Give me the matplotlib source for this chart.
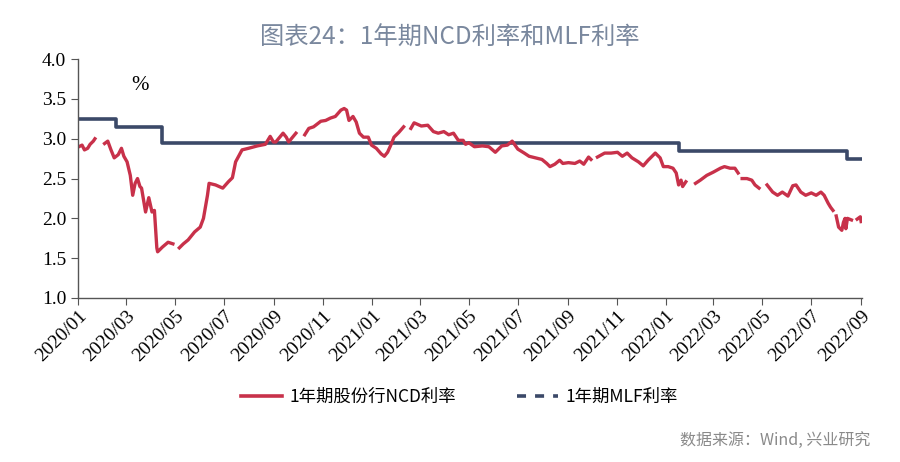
import numpy as np
import pandas as pd
import matplotlib
matplotlib.use('Agg')
import matplotlib.pyplot as plt
import matplotlib.dates as mdates
from matplotlib.lines import Line2D

# 1年期股份行NCD利率 (None = no data, holiday gaps)
ncd_dates = [
    '2020-01-02', '2020-01-06', '2020-01-09', '2020-01-13', '2020-01-16', '2020-01-20', '2020-01-22', '2020-01-27',
    '2020-02-03', '2020-02-07', '2020-02-11', '2020-02-15', '2020-02-20', '2020-02-24', '2020-02-27',
    '2020-03-02', '2020-03-06', '2020-03-09', '2020-03-12', '2020-03-15', '2020-03-18', '2020-03-20', '2020-03-25', '2020-03-29',
    '2020-04-02', '2020-04-05', '2020-04-08', '2020-04-09', '2020-04-15', '2020-04-22', '2020-04-28', '2020-04-30',
    '2020-05-06', '2020-05-11', '2020-05-17', '2020-05-25',
    '2020-06-01', '2020-06-05', '2020-06-10', '2020-06-12', '2020-06-20', '2020-06-29',
    '2020-07-06', '2020-07-11', '2020-07-15', '2020-07-23', '2020-07-31',
    '2020-08-11', '2020-08-21', '2020-08-27', '2020-08-31',
    '2020-09-03', '2020-09-12', '2020-09-16', '2020-09-19', '2020-09-28', '2020-09-30',
    '2020-10-09', '2020-10-14', '2020-10-20', '2020-10-29',
    '2020-11-04', '2020-11-10', '2020-11-16', '2020-11-23', '2020-11-27', '2020-11-30',
    '2020-12-03', '2020-12-08', '2020-12-12', '2020-12-16', '2020-12-21', '2020-12-27', '2020-12-31',
    '2021-01-06', '2021-01-12', '2021-01-16', '2021-01-20', '2021-01-24', '2021-01-28',
    '2021-02-03', '2021-02-09', '2021-02-11', '2021-02-18', '2021-02-22',
    '2021-03-03', '2021-03-11', '2021-03-18', '2021-03-24', '2021-03-31',
    '2021-04-06', '2021-04-12', '2021-04-18', '2021-04-24', '2021-04-27',
    '2021-05-01', '2021-05-08', '2021-05-18', '2021-05-26',
    '2021-06-03', '2021-06-11', '2021-06-18', '2021-06-24',
    '2021-07-01', '2021-07-09', '2021-07-15', '2021-07-23', '2021-07-31',
    '2021-08-06', '2021-08-10', '2021-08-16', '2021-08-22', '2021-08-26',
    '2021-09-02', '2021-09-10', '2021-09-16', '2021-09-21', '2021-09-27', '2021-09-30',
    '2021-10-01', '2021-10-08', '2021-10-17', '2021-10-25',
    '2021-11-02', '2021-11-08', '2021-11-14', '2021-11-20', '2021-11-28',
    '2021-12-04', '2021-12-10', '2021-12-19', '2021-12-25', '2021-12-29',
    '2022-01-04', '2022-01-10', '2022-01-14', '2022-01-17', '2022-01-20', '2022-01-22', '2022-01-26', '2022-01-28',
    '2022-02-07', '2022-02-13', '2022-02-21',
    '2022-03-01', '2022-03-10', '2022-03-15', '2022-03-22', '2022-03-28',
    '2022-04-01', '2022-04-03', '2022-04-06', '2022-04-12', '2022-04-18', '2022-04-22', '2022-04-27', '2022-04-30',
    '2022-05-07', '2022-05-14', '2022-05-20', '2022-05-26',
    '2022-06-02', '2022-06-08', '2022-06-12', '2022-06-18', '2022-06-24',
    '2022-07-01', '2022-07-07', '2022-07-13', '2022-07-17', '2022-07-22', '2022-07-25', '2022-07-28', '2022-07-30',
    '2022-08-01', '2022-08-04', '2022-08-08', '2022-08-10', '2022-08-12', '2022-08-13', '2022-08-15', '2022-08-20', '2022-08-23',
    '2022-08-27', '2022-08-31', '2022-09-01',
]
ncd_vals = [
    2.90, 2.92, 2.86, 2.88, 2.93, 2.97, 3.00, None,
    2.94, 2.97, 2.86, 2.76, 2.80, 2.88, 2.78,
    2.71, 2.54, 2.29, 2.44, 2.50, 2.40, 2.38, 2.08, 2.26,
    2.08, 2.10, 1.63, 1.58, 1.64, 1.70, 1.68, None,
    1.63, 1.68, 1.73, 1.83,
    1.89, 2.00, 2.29, 2.44, 2.42, 2.38,
    2.46, 2.51, 2.71, 2.86, 2.88,
    2.91, 2.93, 3.03, 2.96,
    2.96, 3.07, 3.02, 2.96, 3.07, None,
    3.05, 3.13, 3.15, 3.22,
    3.23, 3.26, 3.28, 3.36, 3.38, 3.36,
    3.23, 3.28, 3.21, 3.07, 3.02, 3.02, 2.92,
    2.88, 2.81, 2.78, 2.83, 2.92, 3.02,
    3.08, 3.15, None, 3.13, 3.20,
    3.16, 3.17, 3.09, 3.07, 3.09,
    3.05, 3.07, 2.98, 2.98, 2.93,
    2.95, 2.90, 2.91, 2.90,
    2.83, 2.91, 2.92, 2.97,
    2.87, 2.82, 2.78, 2.76, 2.74,
    2.69, 2.65, 2.68, 2.73, 2.69,
    2.70, 2.69, 2.72, 2.68, 2.77, 2.74,
    None, 2.77, 2.82, 2.82,
    2.83, 2.78, 2.82, 2.76, 2.71,
    2.66, 2.73, 2.82, 2.76, 2.65,
    2.65, 2.63, 2.57, 2.42, 2.48, 2.40, 2.46, None,
    2.44, 2.48, 2.54,
    2.58, 2.63, 2.65, 2.63, 2.63,
    2.57, None, 2.50, 2.50, 2.48, 2.42, 2.38, None,
    2.42, 2.33, 2.29, 2.33,
    2.28, 2.41, 2.42, 2.33, 2.29,
    2.32, 2.29, 2.33, 2.29, 2.19, 2.14, 2.10, None,
    2.03, 1.89, 1.85, 1.95, 2.00, 1.87, 2.00, 1.98, None,
    1.99, 2.02, 1.96,
]

# 1年期MLF利率 (step changes)
mlf_dates = ['2020-01-01', '2020-02-17', '2020-04-15', '2022-01-17', '2022-08-15', '2022-09-01']
mlf_vals = [3.25, 3.15, 2.95, 2.85, 2.75, 2.75]

red = '#c8314a'
navy = '#3b4968'
cjk = ['Noto Sans CJK SC', 'DejaVu Sans']

plt.rcParams['font.family'] = ['Liberation Serif', 'DejaVu Serif']

ncd = pd.Series(np.array(ncd_vals, dtype=float), index=pd.to_datetime(ncd_dates))
mlf = pd.Series(mlf_vals, index=pd.to_datetime(mlf_dates))

fig = plt.figure(figsize=(9, 4.62), dpi=100)
ax = fig.add_axes([0.0867, 0.355, 0.871, 0.517])

ax.plot(mlf.index, mlf.values, color=navy, lw=2.6, drawstyle='steps-post')
ax.plot(ncd.index, ncd.values, color=red, lw=2.4)

ax.set_ylim(1.0, 4.0)
ax.set_yticks(np.arange(1.0, 4.01, 0.5))
ax.yaxis.set_major_formatter(plt.FormatStrFormatter('%.1f'))
ax.set_xlim(pd.Timestamp('2020-01-01'), pd.Timestamp('2022-09-02'))
ax.xaxis.set_major_locator(mdates.MonthLocator(bymonth=[1, 3, 5, 7, 9, 11]))
ax.xaxis.set_major_formatter(mdates.DateFormatter('%Y/%m'))

for s in ['top', 'right']:
    ax.spines[s].set_visible(False)
for s in ['left', 'bottom']:
    ax.spines[s].set_color('#555555')
    ax.spines[s].set_linewidth(1.0)
ax.tick_params(axis='both', direction='out', length=5, color='#555555', labelsize=14)
ax.tick_params(axis='x', labelsize=14, pad=2)
for lbl in ax.get_xticklabels():
    lbl.set_rotation(45)
    lbl.set_ha('right')
    lbl.set_rotation_mode('anchor')

ax.text(0.079, 0.89, '%', transform=ax.transAxes, fontsize=15, ha='center', va='center')

fig.text(0.5, 0.918, '图表24：1年期NCD利率和MLF利率', family=cjk, fontsize=17.5,
         weight='medium', color='#7a889e', ha='center', va='center')

handles = [Line2D([], [], color=red, lw=2.6),
           Line2D([], [], color=navy, lw=2.6, ls=(0, (2.5, 2.5)))]
fig.legend(handles, ['1年期股份行NCD利率', '1年期MLF利率'], loc='center',
           bbox_to_anchor=(0.51, 0.141), ncol=2, frameon=False,
           prop={'family': cjk, 'size': 12.5}, handlelength=2.4,
           handletextpad=0.4, columnspacing=3.5)

fig.text(0.967, 0.047, '数据来源：Wind, 兴业研究', family=cjk, fontsize=11.5,
         color='#8a8a8a', ha='right', va='center')

fig.savefig('out.png', dpi=100)
